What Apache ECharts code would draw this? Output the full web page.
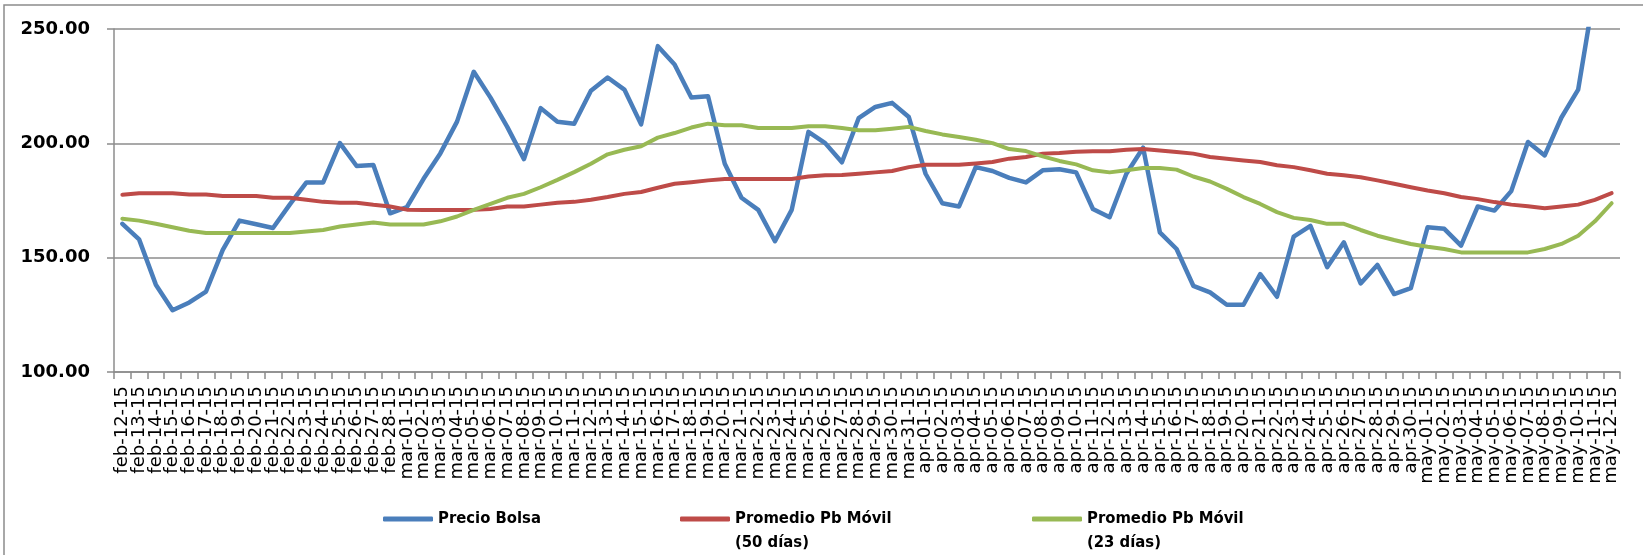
<!DOCTYPE html>
<html>
<head>
<meta charset="utf-8">
<script src="https://cdn.jsdelivr.net/npm/echarts@6/dist/echarts.min.js"></script>
<style>
html,body{margin:0;padding:0;background:#fff;}
#chart{width:1643px;height:555px;}
</style>
</head>
<body>
<div id="chart"></div>
<script>
const categories = [
'feb-12-15','feb-13-15','feb-14-15','feb-15-15','feb-16-15','feb-17-15','feb-18-15','feb-19-15','feb-20-15','feb-21-15',
'feb-22-15','feb-23-15','feb-24-15','feb-25-15','feb-26-15','feb-27-15','feb-28-15',
'mar-01-15','mar-02-15','mar-03-15','mar-04-15','mar-05-15','mar-06-15','mar-07-15','mar-08-15','mar-09-15','mar-10-15',
'mar-11-15','mar-12-15','mar-13-15','mar-14-15','mar-15-15','mar-16-15','mar-17-15','mar-18-15','mar-19-15','mar-20-15',
'mar-21-15','mar-22-15','mar-23-15','mar-24-15','mar-25-15','mar-26-15','mar-27-15','mar-28-15','mar-29-15','mar-30-15','mar-31-15',
'apr-01-15','apr-02-15','apr-03-15','apr-04-15','apr-05-15','apr-06-15','apr-07-15','apr-08-15','apr-09-15','apr-10-15',
'apr-11-15','apr-12-15','apr-13-15','apr-14-15','apr-15-15','apr-16-15','apr-17-15','apr-18-15','apr-19-15','apr-20-15',
'apr-21-15','apr-22-15','apr-23-15','apr-24-15','apr-25-15','apr-26-15','apr-27-15','apr-28-15','apr-29-15','apr-30-15',
'may-01-15','may-02-15','may-03-15','may-04-15','may-05-15','may-06-15','may-07-15','may-08-15','may-09-15','may-10-15',
'may-11-15','may-12-15'
];

const seriesNames = ['Precio Bolsa', 'Promedio Pb Móvil (50 días)', 'Promedio Pb Móvil (23 días)'];

const precioBolsa = [
164.8,158.0,138.2,127.0,130.4,135.2,153.4,166.2,164.6,163.0,
173.2,182.9,182.9,200.1,190.1,190.5,169.4,
172.1,184.5,195.6,209.5,231.3,220.0,207.2,193.1,215.4,209.4,
208.6,223.0,228.8,223.5,208.3,242.5,234.5,220.0,220.6,191.1,
176.2,170.9,157.2,170.9,205.0,200.1,191.7,211.0,215.9,217.7,211.5,
186.7,173.8,172.4,189.6,187.9,184.9,182.9,188.2,188.7,187.3,
171.3,167.7,186.7,198.1,161.1,153.8,137.7,134.8,129.4,129.4,
142.8,132.9,159.2,163.9,145.8,156.7,138.7,146.8,134.1,136.7,
163.3,162.6,155.3,172.4,170.6,179.1,200.6,194.7,211.3,223.5,
267.6,280.0
];

const promedio50 = [
177.5,178.2,178.2,178.2,177.6,177.6,177.0,177.0,177.0,176.2,
176.2,175.3,174.4,174.0,174.0,173.1,172.4,
171.0,170.9,170.9,170.9,170.9,171.3,172.4,172.4,173.2,174.0,
174.4,175.3,176.5,177.9,178.7,180.6,182.3,183.0,183.8,184.4,
184.4,184.4,184.4,184.4,185.5,186.0,186.1,186.7,187.3,187.9,189.6,
190.6,190.6,190.6,191.2,191.8,193.3,194.0,195.5,195.8,196.3,
196.5,196.5,197.2,197.5,196.9,196.2,195.5,194.0,193.3,192.5,
191.8,190.4,189.6,188.2,186.7,186.0,185.2,183.8,182.3,180.8,
179.4,178.2,176.5,175.6,174.3,173.2,172.5,171.6,172.4,173.2,
175.3,178.2
];

const promedio23 = [
167.0,166.2,164.8,163.3,161.8,160.8,160.8,160.8,160.8,160.8,
160.8,161.4,162.1,163.6,164.5,165.4,164.5,
164.5,164.5,165.9,168.0,170.9,173.5,176.2,177.9,180.8,184.0,
187.4,191.1,195.2,197.2,198.7,202.5,204.5,206.9,208.6,207.9,
207.9,206.7,206.7,206.7,207.5,207.5,206.7,205.7,205.7,206.4,207.2,
205.4,203.9,202.8,201.6,200.1,197.5,196.6,194.3,192.3,190.8,
188.2,187.3,188.2,189.2,189.2,188.5,185.5,183.3,180.1,176.5,
173.5,169.9,167.4,166.5,164.8,164.8,162.1,159.6,157.7,156.0,
154.8,153.8,152.3,152.3,152.3,152.3,152.3,153.8,156.0,159.6,
165.9,173.8
];

const yMin = 100, yMax = 250, yStep = 50;
const colors = ['#4A7EBB', '#BE4B48', '#98B954'];

const chart = echarts.init(document.getElementById('chart'), null, {renderer: 'canvas'});

const legendText = {
  fontFamily: '"DejaVu Sans Condensed", "Liberation Sans Narrow", sans-serif',
  fontWeight: 'bold',
  fontSize: 16.5,
  color: '#000',
  lineHeight: 24
};

function mkLegend(name, left, top) {
  return {
    data: [name],
    left: left,
    top: top,
    orient: 'horizontal',
    icon: 'roundRect',
    itemWidth: 50,
    itemHeight: 5,
    itemGap: 0,
    padding: 0,
    selectedMode: false,
    formatter: function (n) {
      const i = n.indexOf(' (');
      // blank first line keeps the first text line level with the icon
      return i >= 0 ? ' \n' + n.slice(0, i) + '\n' + n.slice(i + 1) : n;
    },
    textStyle: legendText
  };
}

const mkSeries = (name, data, color, width) => ({
  name: name,
  type: 'line',
  data: data,
  showSymbol: false,
  symbol: 'none',
  clip: true,
  itemStyle: {color: color},
  lineStyle: {color: color, width: width, cap: 'round', join: 'round'},
  emphasis: {disabled: true}
});

chart.setOption({
  animation: false,
  backgroundColor: '#fff',
  color: colors,
  grid: {left: 114, right: 23, top: 29, bottom: 183, containLabel: false},
  legend: [
    mkLegend(seriesNames[0], 383, 507),
    mkLegend(seriesNames[1], 680, 483),
    mkLegend(seriesNames[2], 1032, 483)
  ],
  xAxis: {
    type: 'category',
    data: categories,
    boundaryGap: true,
    axisLine: {show: true, lineStyle: {color: '#8c8c8c', width: 1.5}},
    axisTick: {show: true, interval: 0, length: 7, alignWithLabel: false, lineStyle: {color: '#8c8c8c', width: 1.5}},
    axisLabel: {
      interval: 0,
      rotate: 90,
      margin: 14,
      color: '#000',
      fontFamily: '"DejaVu Sans", sans-serif',
      fontSize: 18
    },
    splitLine: {show: false}
  },
  yAxis: {
    type: 'value',
    min: yMin,
    max: yMax,
    interval: yStep,
    axisLine: {show: true, lineStyle: {color: '#8c8c8c', width: 1.5}},
    axisTick: {show: true, length: 7, lineStyle: {color: '#8c8c8c', width: 1.5}},
    axisLabel: {
      margin: 24,
      color: '#000',
      fontFamily: '"DejaVu Sans", sans-serif',
      fontWeight: 'bold',
      fontSize: 18,
      formatter: v => v.toFixed(2)
    },
    splitLine: {show: true, lineStyle: {color: '#8c8c8c', width: 1.5}}
  },
  graphic: [{
    type: 'rect',
    silent: true,
    shape: {x: 4, y: 5, width: 1700, height: 600},
    style: {fill: 'none', stroke: '#8c8c8c', lineWidth: 1.5}
  }],
  series: [
    mkSeries(seriesNames[0], precioBolsa, colors[0], 4.5),
    mkSeries(seriesNames[1], promedio50, colors[1], 4),
    mkSeries(seriesNames[2], promedio23, colors[2], 4)
  ]
});
</script>
</body>
</html>
